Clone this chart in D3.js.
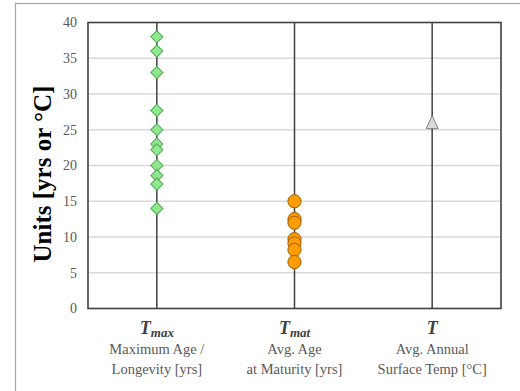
<!DOCTYPE html>
<html><head><meta charset="utf-8">
<script src="https://cdn.jsdelivr.net/npm/d3@7"></script>
<style>body{margin:0;background:#fff;} svg{display:block;}</style>
</head><body>
<script>
const categories = ["Tmax", "Tmat", "T"];
const catMain = ["T", "T", "T"];
const catSub = ["max", "mat", ""];
const catDesc = [["Maximum Age /", "Longevity [yrs]"], ["Avg. Age", "at Maturity [yrs]"], ["Avg. Annual", "Surface Temp [°C]"]];
const tmaxValues = [38, 36, 33, 27.7, 25, 23, 22.2, 20, 18.6, 17.4, 14];
const tmatValues = [15, 12.5, 12, 9.7, 9.1, 8.2, 6.5];
const tValues = [26];
const yTicks = [0, 5, 10, 15, 20, 25, 30, 35, 40];

const W = 520, H = 391;
const m = {left: 88, right: 501, top: 22.5, bottom: 308.5};
const svg = d3.select("body").append("svg").attr("width", W).attr("height", H);

// outer frame
svg.append("rect").attr("x", 15.5).attr("y", 3.5).attr("width", 600).attr("height", 500)
  .attr("fill", "none").attr("stroke", "#a6a6a6").attr("stroke-width", 1.2);

const x = d3.scaleBand().domain(categories).range([m.left, m.right]);
const y = d3.scaleLinear().domain([0, 40]).range([m.bottom, m.top]);

// gridlines
svg.append("g").selectAll("line").data(yTicks.filter(d => d > 0 && d < 40)).join("line")
  .attr("x1", m.left).attr("x2", m.right).attr("y1", d => y(d)).attr("y2", d => y(d))
  .attr("stroke", "#d9d9d9").attr("stroke-width", 1.3);

// y axis labels
const yAxis = d3.axisLeft(y).tickValues(yTicks).tickSize(0).tickPadding(11);
const ga = svg.append("g").attr("transform", `translate(${m.left},0)`).call(yAxis);
ga.select(".domain").remove();
ga.selectAll("text").attr("font-family", "Liberation Serif, Times New Roman, serif")
  .attr("font-size", 14).attr("fill", "#595959");

// category vertical lines
svg.append("g").selectAll("line").data(categories).join("line")
  .attr("x1", d => x(d) + x.bandwidth() / 2).attr("x2", d => x(d) + x.bandwidth() / 2)
  .attr("y1", m.top).attr("y2", m.bottom)
  .attr("stroke", "#404040").attr("stroke-width", 1.5);

// plot border
svg.append("rect").attr("x", m.left).attr("y", m.top).attr("width", m.right - m.left).attr("height", m.bottom - m.top)
  .attr("fill", "none").attr("stroke", "#404040").attr("stroke-width", 1.6);

const cx = c => x(c) + x.bandwidth() / 2;

// diamonds
svg.append("g").selectAll("path").data(tmaxValues).join("path")
  .attr("d", d3.symbol().type(d3.symbolSquare).size(74)())
  .attr("transform", d => `translate(${cx("Tmax")},${y(d)}) rotate(45)`)
  .attr("fill", "#8ee88e").attr("stroke", "#52a852").attr("stroke-width", 1);

// circles
svg.append("g").selectAll("circle").data(tmatValues).join("circle")
  .attr("cx", cx("Tmat")).attr("cy", d => y(d)).attr("r", 6.6)
  .attr("fill", "#ff9c00").attr("stroke", "#9a5e00").attr("stroke-width", 1);

// triangle
svg.append("g").selectAll("path").data(tValues).join("path")
  .attr("d", "M0,-7L6,6L-6,6Z")
  .attr("transform", d => `translate(${cx("T")},${y(d)})`)
  .attr("fill", "#d9d9d9").attr("stroke", "#808080").attr("stroke-width", 1);

// category labels
const labs = svg.append("g").selectAll("g").data(categories).join("g")
  .attr("transform", d => `translate(${cx(d)},0)`);
labs.each(function(d, i) {
  const g = d3.select(this);
  const t = g.append("text").attr("y", 334).attr("text-anchor", "middle")
    .attr("font-family", "Liberation Serif, Times New Roman, serif")
    .attr("font-weight", "bold").attr("font-style", "italic").attr("fill", "#404040");
  t.append("tspan").attr("font-size", 18).text(catMain[i]);
  if (catSub[i]) t.append("tspan").attr("font-size", 13).attr("dy", 3).text(catSub[i]);
  catDesc[i].forEach((s, j) => {
    g.append("text").attr("y", 354 + j * 20).attr("text-anchor", "middle")
      .attr("font-family", "Liberation Serif, Times New Roman, serif")
      .attr("font-size", 14.5).attr("fill", "#595959").text(s);
  });
});

// y title
svg.append("text").attr("transform", "translate(51,174) rotate(-90)")
  .attr("text-anchor", "middle").attr("font-family", "Liberation Serif, Times New Roman, serif")
  .attr("font-weight", "bold").attr("font-size", 25).attr("fill", "#000").text("Units [yrs or °C]");
</script>
</body></html>
